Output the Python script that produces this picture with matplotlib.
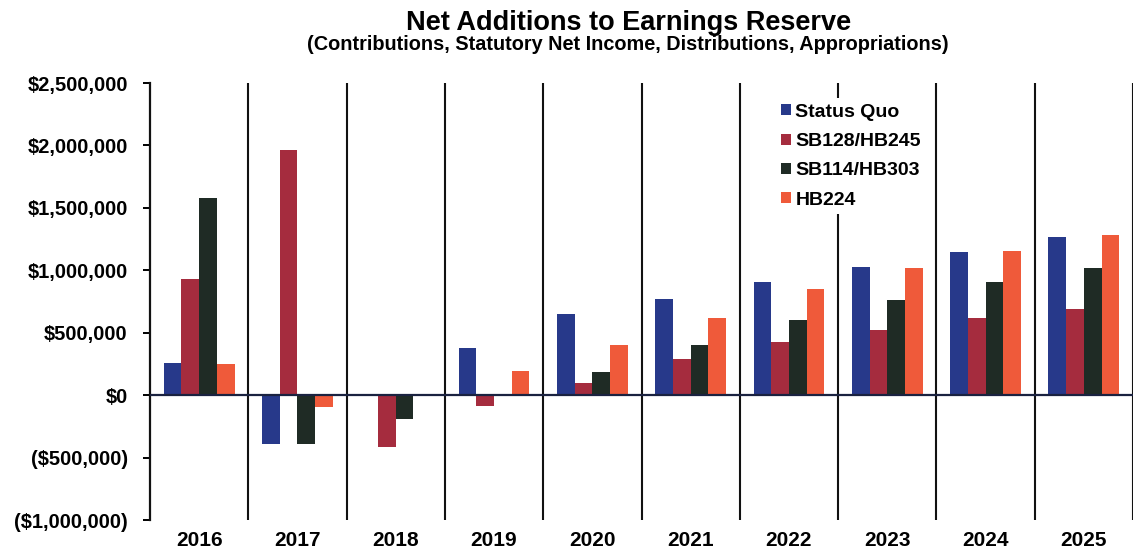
import matplotlib
matplotlib.use("Agg")
import matplotlib.pyplot as plt
import numpy as np
from matplotlib.ticker import FuncFormatter, MultipleLocator

years = ["2016", "2017", "2018", "2019", "2020", "2021", "2022", "2023", "2024", "2025"]
series_names = ["Status Quo", "SB128/HB245", "SB114/HB303", "HB224"]
status_quo = [261000, -391000, -8000, 380000, 646000, 771000, 910000, 1029000, 1149000, 1269000]
sb128_hb245 = [933000, 1963000, -412000, -85000, 98000, 287000, 426000, 519000, 617000, 691000]
sb114_hb303 = [1582000, -391000, -189000, 5000, 186000, 404000, 604000, 766000, 910000, 1019000]
hb224 = [253000, -98000, -5000, 194000, 399000, 617000, 851000, 1016000, 1157000, 1282000]
colors = ["#27398a", "#a52c3e", "#1f2b25", "#ef5a3a"]

plt.rcParams['font.family'] = ['Liberation Sans', 'DejaVu Sans']
plt.rcParams['font.weight'] = 'bold'

fig = plt.figure(figsize=(11.34, 5.56), dpi=100)
ax = fig.add_axes([150/1134, 1-520/556, (1133-150)/1134, (520-83)/556])

x = np.arange(len(years))
w = 0.18
all_series = [status_quo, sb128_hb245, sb114_hb303, hb224]
for i, (vals, name, c) in enumerate(zip(all_series, series_names, colors)):
    ax.bar(x + (i - 1.5) * w, vals, width=w, color=c, label=name, zorder=3)

ax.set_xlim(-0.5, len(years) - 0.5)
ax.set_ylim(-1000000, 2500000)
ax.yaxis.set_major_locator(MultipleLocator(500000))

def fmt(v, pos):
    if v < 0:
        return "(${:,.0f})".format(-v)
    return "${:,.0f}".format(v)
ax.yaxis.set_major_formatter(FuncFormatter(fmt))

# category separators
for b in np.arange(0.5, len(years), 1.0):
    ax.axvline(b, color="#111111", lw=1.5, zorder=2)
ax.axhline(0, color="#1a2240", lw=1.6, zorder=4)

for s in ["top", "right", "bottom"]:
    ax.spines[s].set_visible(False)
ax.spines["left"].set_linewidth(1.6)
ax.spines["left"].set_color("#111111")

ax.set_xticks(x)
ax.set_xticklabels(years)
ax.tick_params(axis="x", length=0, pad=8, labelsize=15)
ax.tick_params(axis="y", length=5, width=1.4, direction="out", pad=11, labelsize=14.5)
for lab in ax.get_xticklabels() + ax.get_yticklabels():
    lab.set_fontweight("bold")

leg = ax.legend(loc="upper left", bbox_to_anchor=((775-150)/983, (520-98)/437),
                frameon=True, fancybox=False, edgecolor="none", facecolor="white", framealpha=1,
                prop={"weight": "bold", "size": 14}, handlelength=0.5, handleheight=0.5,
                handletextpad=0.25, labelspacing=0.63, borderpad=0.3, borderaxespad=0)
leg.set_zorder(10)

fig.text(628.5/1134, 1-30/556, "Net Additions to Earnings Reserve", ha="center", va="baseline",
         fontsize=19.5, fontweight="bold")
fig.text(627.5/1134, 1-50/556, "(Contributions, Statutory Net Income, Distributions, Appropriations)",
         ha="center", va="baseline", fontsize=14.3, fontweight="bold")

fig.savefig("out.png", dpi=100, facecolor="white")
